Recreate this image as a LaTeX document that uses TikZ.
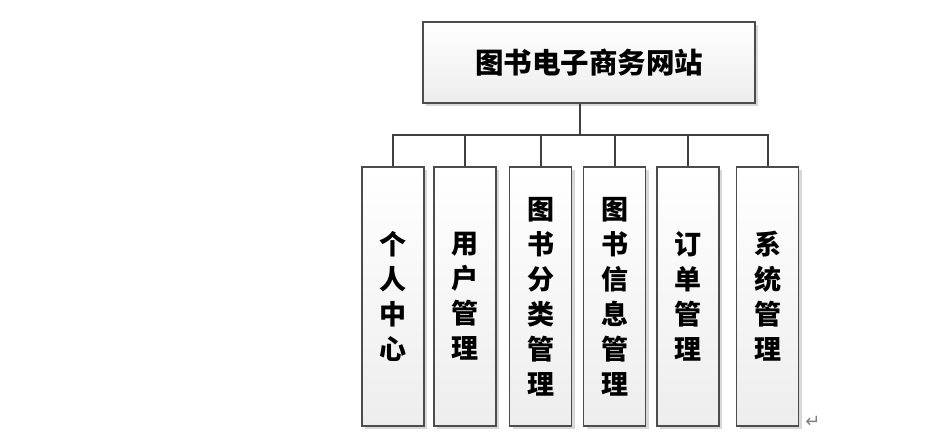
\documentclass[tikz,border=0pt]{standalone}
\usepackage{fontspec}
\newfontfamily\cjk{Noto Sans CJK SC}
\newfontfamily\symfont{DejaVu Sans}
\usetikzlibrary{shadows}

\tikzset{
    box/.style={draw=black!70, line width=1.2pt, top color=white, bottom color=black!7,
        drop shadow={shadow xshift=3pt, shadow yshift=-3pt, fill=black!30}},
    topbox/.style={box, minimum width=332pt, minimum height=81pt,
        font=\cjk\bfseries\fontsize{28.5}{32}\selectfont},
    kidbox/.style={box, minimum width=62pt, minimum height=259pt, inner sep=0pt, align=center,
        font=\cjk\bfseries\fontsize{27}{35}\selectfont},
    link/.style={draw=black!75, line width=2pt}
}

\begin{document}
\begin{tikzpicture}[x=1pt, y=-1pt] % one unit is one pixel of the reference
    \useasboundingbox (0, 0) rectangle (943, 437);

    % Top box
    \node[topbox] (site) at (589, 62.5) {图书电子商务网站};

    % Modules
    \node[kidbox] (personal) at (393, 296.5) {个\\人\\中\\心};
    \node[kidbox] (user) at (465, 296.5) {用\\户\\管\\理};
    \node[kidbox] (category) at (540.5, 296.5) {图\\书\\分\\类\\管\\理};
    \node[kidbox] (book) at (614.5, 296.5) {图\\书\\信\\息\\管\\理};
    \node[kidbox] (order) at (688, 296.5) {订\\单\\管\\理};
    \node[kidbox] (system) at (767.5, 296.5) {系\\统\\管\\理};

    % Tree lines
    \coordinate (bus) at (580, 135);
    \draw[link] (bus |- site.south) -- (bus);
    \foreach \kid in {personal, user, category, book, order, system}
        \draw[link] (\kid.north) |- (bus);

    % Paragraph mark
    \node[text=black!50, font=\symfont\fontsize{18}{18}\selectfont] (mark) at (813, 422) {↵};
\end{tikzpicture}
\end{document}
